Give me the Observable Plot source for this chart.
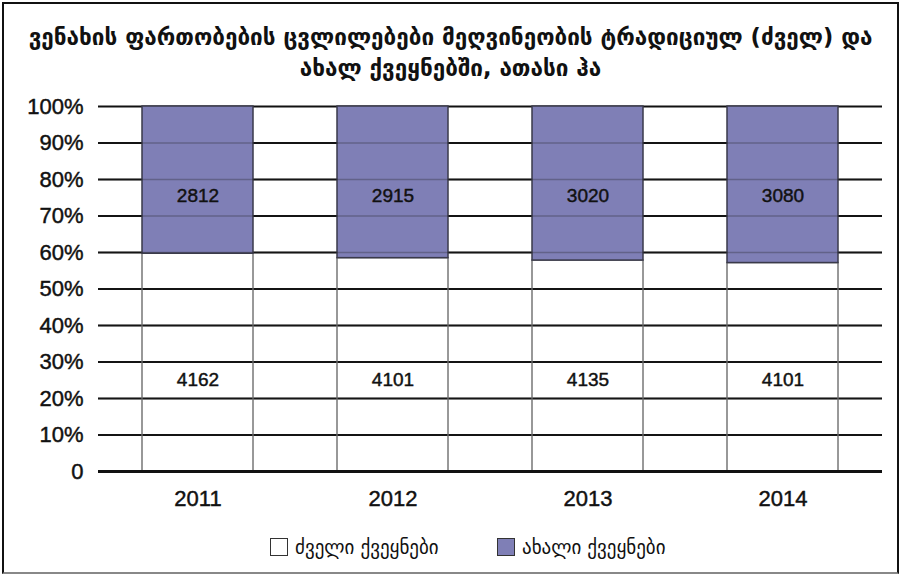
<!DOCTYPE html>
<html>
<head>
<meta charset="utf-8">
<script src="https://cdn.jsdelivr.net/npm/d3@7"></script>
<script src="https://cdn.jsdelivr.net/npm/@observablehq/plot@0.6"></script>
<style>
  html, body { margin: 0; padding: 0; background: #fff; }
  #wrap { position: relative; width: 901px; height: 576px; overflow: hidden; font-family: "Liberation Sans", Arial, "DejaVu Sans", sans-serif; }
  #frame { position: absolute; left: 2px; top: 2px; width: 893px; height: 568px; border: 2px solid #111; border-bottom-color: #888; }
  #title { position: absolute; left: 0; width: 901px; top: 22px; text-align: center; font-family: "DejaVu Sans", sans-serif; font-weight: bold; font-size: 22.5px; line-height: 31px; color: #111; white-space: nowrap; }
  #chart { position: absolute; left: 0; top: 90px; }
  #chart svg text { stroke: #111; stroke-width: 0.45px; }
  #legend { position: absolute; top: 536px; left: 0; width: 901px; font-family: "DejaVu Sans", sans-serif; font-size: 19px; color: #111; }
  .item { position: absolute; display: flex; align-items: center; }
  .sw { width: 18px; height: 18px; border: 1.5px solid #333; margin-right: 7px; box-sizing: border-box; }
</style>
</head>
<body>
<div id="wrap">
  <div id="frame"></div>
  <div id="title"></div>
  <div id="chart"></div>
  <div id="legend"></div>
</div>
<script>
const titleLines = ["ვენახის ფართობების ცვლილებები მეღვინეობის ტრადიციულ (ძველ) და", "ახალ ქვეყნებში, ათასი ჰა"];
const years = ["2011", "2012", "2013", "2014"];
const seriesNames = ["ძველი ქვეყნები", "ახალი ქვეყნები"];
const oldValues = [4162, 4101, 4135, 4101];
const newValues = [2812, 2915, 3020, 3080];
const yTicks = [0, 0.1, 0.2, 0.3, 0.4, 0.5, 0.6, 0.7, 0.8, 0.9, 1];
const yTickLabels = ["0", "10%", "20%", "30%", "40%", "50%", "60%", "70%", "80%", "90%", "100%"];
const colors = { "ძველი ქვეყნები": "#ffffff", "ახალი ქვეყნები": "#7f7fb6" };
const labelLevel = { "ძველი ქვეყნები": 0.25, "ახალი ქვეყნები": 0.755 };

document.getElementById("title").innerHTML = titleLines.join("<br>");

const rows = [];
years.forEach((y, i) => {
  rows.push({ year: y, series: seriesNames[0], value: oldValues[i] });
  rows.push({ year: y, series: seriesNames[1], value: newValues[i] });
});

const chart = Plot.plot({
  width: 901,
  height: 426,
  marginLeft: 98,
  marginRight: 19,
  marginTop: 16,
  marginBottom: 45,
  style: { fontFamily: "Liberation Sans, Arial, sans-serif", fontSize: "22px", color: "#111", background: "transparent" },
  x: { domain: years, paddingInner: 0.43, paddingOuter: 0.22, label: null, tickSize: 0, tickPadding: 19 },
  y: { domain: [0, 1], ticks: yTicks, tickFormat: (d) => yTickLabels[yTicks.indexOf(d)], label: null, tickSize: 0, tickPadding: 15 },
  marks: [
    Plot.ruleY(yTicks.slice(1), { stroke: "#111", strokeWidth: 2 }),
    Plot.barY(rows, Plot.stackY({ offset: "normalize", order: seriesNames, x: "year", y: "value", z: "series",
      fill: (d) => d.series === seriesNames[0] ? "none" : colors[d.series],
      stroke: (d) => d.series === seriesNames[0] ? "#777" : "#3a3a4a",
      strokeWidth: 1.5 })),
    Plot.ruleY(yTicks.slice(1, -1), { stroke: "#222", strokeOpacity: 0.3, strokeWidth: 1.5 }),
    Plot.ruleY([0], { stroke: "#111", strokeWidth: 3 }),
    Plot.text(rows, { x: "year", y: (d) => labelLevel[d.series], text: (d) => String(d.value), fontSize: 19, fill: "#111" })
  ]
});
document.getElementById("chart").appendChild(chart);

const legend = document.getElementById("legend");
const legendX = [270, 497];
seriesNames.forEach((s, i) => {
  const it = document.createElement("div");
  it.className = "item";
  it.style.left = legendX[i] + "px";
  it.innerHTML = `<div class="sw" style="background:${colors[s]}"></div><span>${s}</span>`;
  legend.appendChild(it);
});
</script>
</body>
</html>
